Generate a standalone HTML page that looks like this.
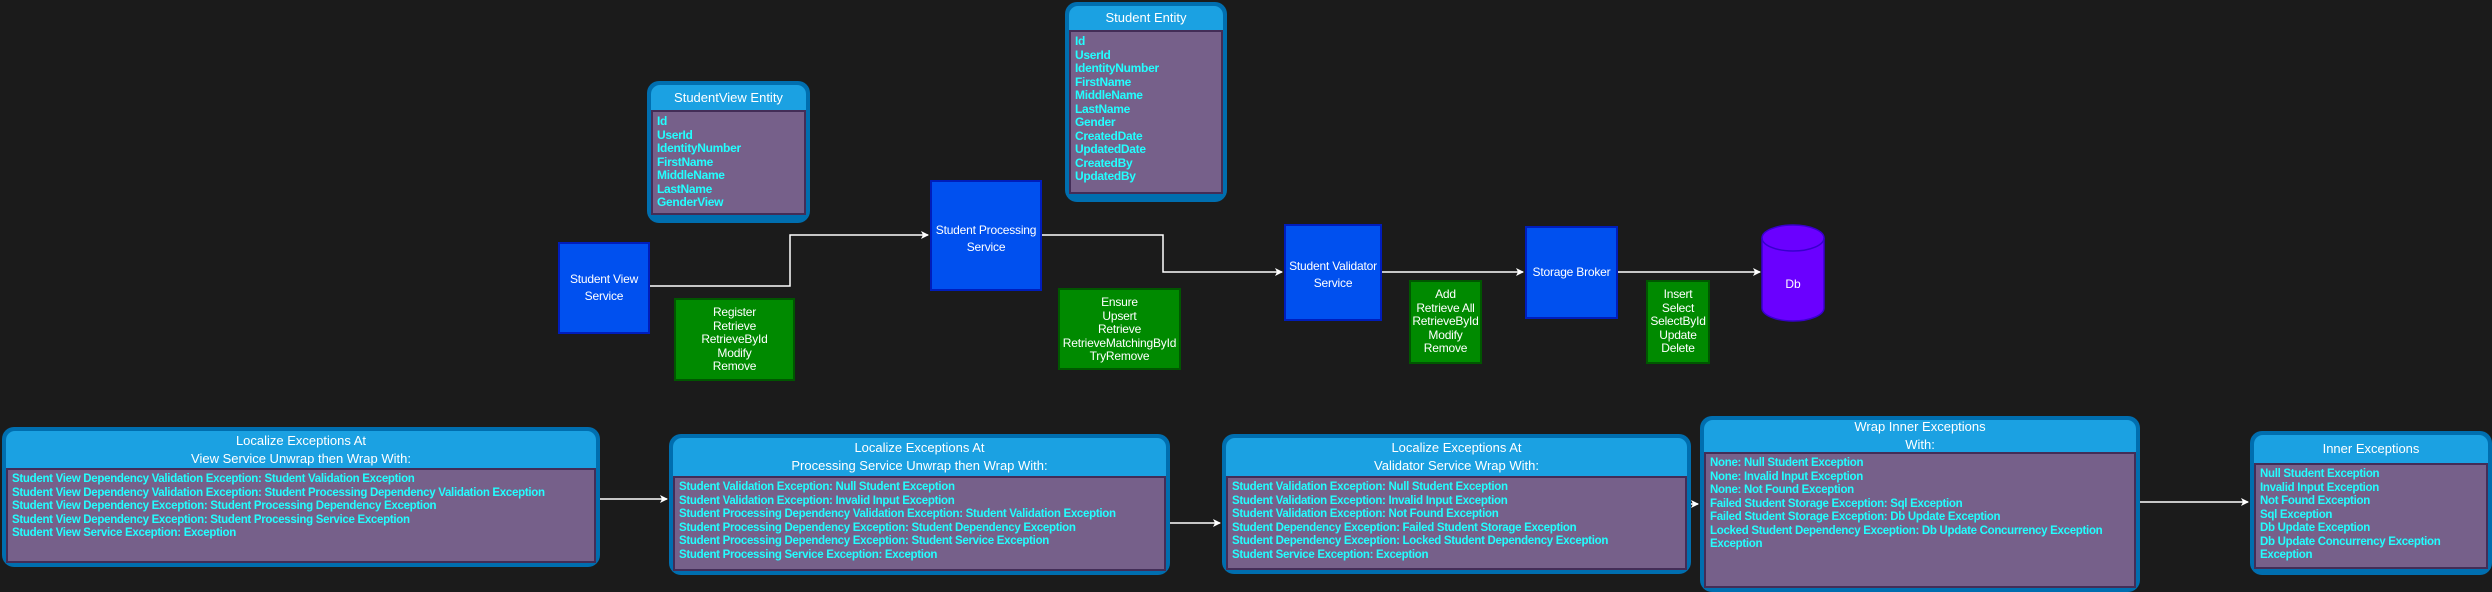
<!DOCTYPE html>
<html><head><meta charset="utf-8"><style>
body{margin:0;width:2492px;height:590px;background:#1b1b1b;position:relative;overflow:hidden;font-family:"Liberation Sans",sans-serif}
.n{position:absolute;background:#0050ef;border:2px solid #001dbc;box-sizing:border-box;color:#fff;font-size:12px;display:flex;align-items:center;justify-content:center;text-align:center;line-height:17px;white-space:nowrap;letter-spacing:-0.2px}
.g{position:absolute;background:#008a00;border:2px solid #005700;box-sizing:border-box;color:#fff;font-size:12px;text-align:center;line-height:13.5px;padding-top:6px;white-space:nowrap;letter-spacing:-0.2px}
.t{position:absolute;background:#006eaf;border-radius:12px;box-sizing:border-box;padding:4px}
.t .h{background:#1ba1e2;border-radius:9px 9px 0 0;color:#fff;text-align:center;font-size:13px;display:flex;align-items:center;justify-content:center;line-height:18px}
.t .b{background:#76608a;border:2px solid #432d57;color:#2ff;font-weight:bold;font-size:11.5px;letter-spacing:-0.3px;line-height:13.5px;padding:3px 4px;box-sizing:border-box;white-space:nowrap;overflow:hidden}
</style></head><body>
<svg width="2492" height="590" style="position:absolute;left:0;top:0">
<defs><marker id="a" markerWidth="8" markerHeight="8" refX="7" refY="4" orient="auto" markerUnits="userSpaceOnUse"><path d="M0,0 L8,4 L0,8 L2,4z" fill="#fff"/></marker></defs>
<g stroke="#fff" stroke-width="1.5" fill="none" marker-end="url(#a)">
<polyline points="650,286 790,286 790,235 928,235"/>
<polyline points="1042,235 1163,235 1163,272 1282,272"/>
<polyline points="1382,272 1523,272"/>
<polyline points="1618,272 1760,272"/>
<polyline points="600,499 667,499"/>
<polyline points="1170,523 1220,523"/>
<polyline points="1691,504 1698,504"/>
<polyline points="2140,502 2248,502"/>
</g>
<path d="M1762,238 a31,13 0 0 1 62,0 v70 a31,13 0 0 1 -62,0z" fill="#6a00ff" stroke="#3700cc" stroke-width="1.5"/>
<path d="M1762,238 a31,13 0 0 0 62,0" fill="none" stroke="#3700cc" stroke-width="1.5"/>
<text x="1793" y="288" fill="#fff" font-size="12" text-anchor="middle" font-family="Liberation Sans">Db</text>
</svg>

<div class="t" style="left:647px;top:81px;width:163px;height:142px"><div class="h" style="height:25px">StudentView Entity</div><div class="b" style="height:105px;font-size:12px">Id<br>UserId<br>IdentityNumber<br>FirstName<br>MiddleName<br>LastName<br>GenderView</div></div>
<div class="t" style="left:1065px;top:2px;width:162px;height:200px"><div class="h" style="height:24px">Student Entity</div><div class="b" style="height:164px;font-size:12px">Id<br>UserId<br>IdentityNumber<br>FirstName<br>MiddleName<br>LastName<br>Gender<br>CreatedDate<br>UpdatedDate<br>CreatedBy<br>UpdatedBy</div></div>

<div class="n" style="left:558px;top:242px;width:92px;height:92px">Student View<br>Service</div>
<div class="g" style="left:674px;top:298px;width:121px;height:83px">Register<br>Retrieve<br>RetrieveById<br>Modify<br>Remove</div>
<div class="n" style="left:930px;top:180px;width:112px;height:111px;align-items:flex-start;padding-top:40px">Student Processing<br>Service</div>
<div class="g" style="left:1058px;top:288px;width:123px;height:82px">Ensure<br>Upsert<br>Retrieve<br>RetrieveMatchingById<br>TryRemove</div>
<div class="n" style="left:1284px;top:224px;width:98px;height:97px;align-items:flex-start;padding-top:32px">Student Validator<br>Service</div>
<div class="g" style="left:1409px;top:280px;width:73px;height:84px">Add<br>Retrieve All<br>RetrieveById<br>Modify<br>Remove</div>
<div class="n" style="left:1525px;top:226px;width:93px;height:93px;align-items:flex-start;padding-top:36px">Storage Broker</div>
<div class="g" style="left:1646px;top:280px;width:64px;height:84px">Insert<br>Select<br>SelectById<br>Update<br>Delete</div>

<div class="t" style="left:2px;top:427px;width:598px;height:140px"><div class="h" style="height:37px">Localize Exceptions At<br>View Service Unwrap then Wrap With:</div><div class="b" style="height:95px">Student View Dependency Validation Exception: Student Validation Exception<br>Student View Dependency Validation Exception: Student Processing Dependency Validation Exception<br>Student View Dependency Exception: Student Processing Dependency Exception<br>Student View Dependency Exception: Student Processing Service Exception<br>Student View Service Exception: Exception</div></div>
<div class="t" style="left:669px;top:434px;width:501px;height:141px"><div class="h" style="height:38px">Localize Exceptions At<br>Processing Service Unwrap then Wrap With:</div><div class="b" style="height:95px">Student Validation Exception: Null Student Exception<br>Student Validation Exception: Invalid Input Exception<br>Student Processing Dependency Validation Exception: Student Validation Exception<br>Student Processing Dependency Exception: Student Dependency Exception<br>Student Processing Dependency Exception: Student Service Exception<br>Student Processing Service Exception: Exception</div></div>
<div class="t" style="left:1222px;top:434px;width:469px;height:140px"><div class="h" style="height:38px">Localize Exceptions At<br>Validator Service Wrap With:</div><div class="b" style="height:94px">Student Validation Exception: Null Student Exception<br>Student Validation Exception: Invalid Input Exception<br>Student Validation Exception: Not Found Exception<br>Student Dependency Exception: Failed Student Storage Exception<br>Student Dependency Exception: Locked Student Dependency Exception<br>Student Service Exception: Exception</div></div>
<div class="t" style="left:1700px;top:416px;width:440px;height:176px"><div class="h" style="height:32px">Wrap Inner Exceptions<br>With:</div><div class="b" style="height:136px">None: Null Student Exception<br>None: Invalid Input Exception<br>None: Not Found Exception<br>Failed Student Storage Exception: Sql Exception<br>Failed Student Storage Exception: Db Update Exception<br>Locked Student Dependency Exception: Db Update Concurrency Exception<br>Exception</div></div>
<div class="t" style="left:2250px;top:431px;width:242px;height:144px"><div class="h" style="height:28px">Inner Exceptions</div><div class="b" style="height:106px">Null Student Exception<br>Invalid Input Exception<br>Not Found Exception<br>Sql Exception<br>Db Update Exception<br>Db Update Concurrency Exception<br>Exception</div></div>
</body></html>
